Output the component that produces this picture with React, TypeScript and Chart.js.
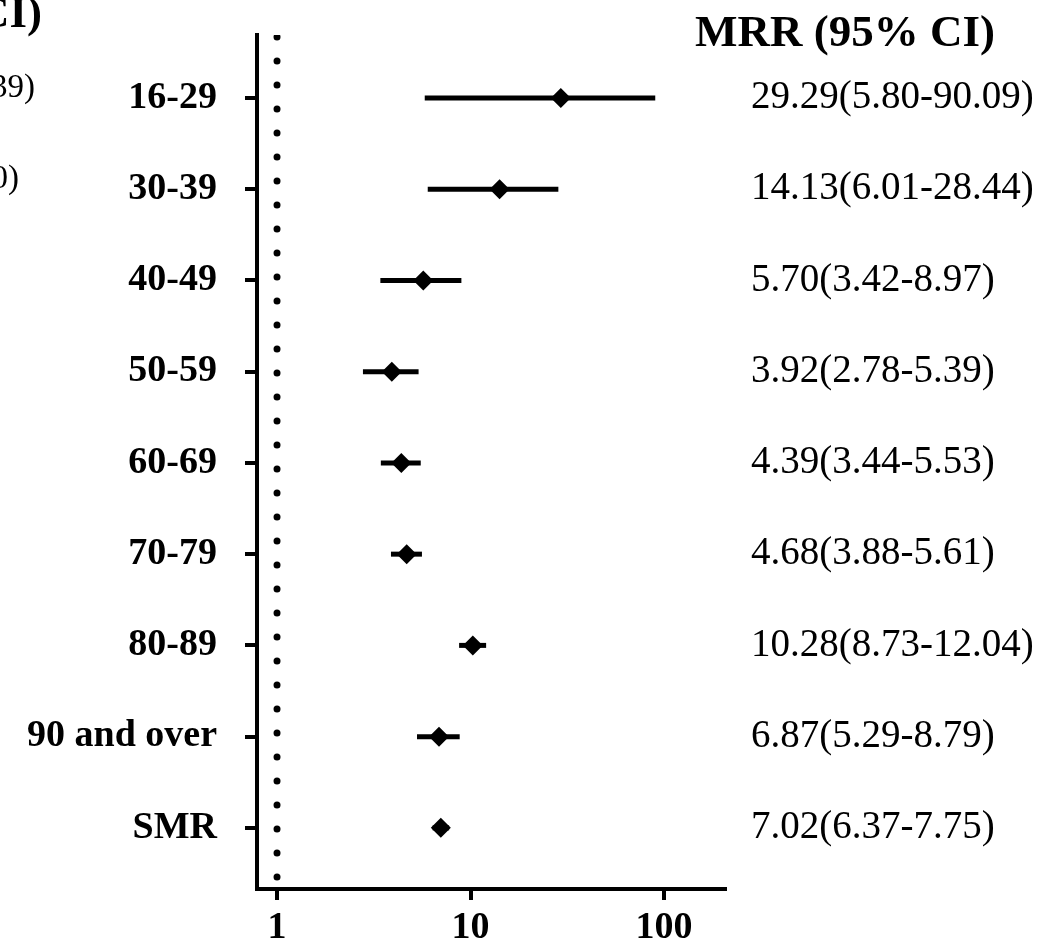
import React, { useEffect, useRef } from "react";
import { Chart, registerables } from "chart.js";

Chart.register(...registerables);

const categories = ["16-29", "30-39", "40-49", "50-59", "60-69", "70-79", "80-89", "90 and over", "SMR"];
const estimates = [29.29, 14.13, 5.7, 3.92, 4.39, 4.68, 10.28, 6.87, 7.02];
const lowers = [5.8, 6.01, 3.42, 2.78, 3.44, 3.88, 8.73, 5.29, 6.37];
const uppers = [90.09, 28.44, 8.97, 5.39, 5.53, 5.61, 12.04, 8.79, 7.75];
const valueLabels = [
  "29.29(5.80-90.09)",
  "14.13(6.01-28.44)",
  "5.70(3.42-8.97)",
  "3.92(2.78-5.39)",
  "4.39(3.44-5.53)",
  "4.68(3.88-5.61)",
  "10.28(8.73-12.04)",
  "6.87(5.29-8.79)",
  "7.02(6.37-7.75)",
];
const xTicks = [1, 10, 100];
const headerText = "MRR (95% CI)";
const refValue = 1;

const SERIF = "'Liberation Serif', 'Times New Roman', serif";

export default function App() {
  const ref = useRef<HTMLCanvasElement | null>(null);

  useEffect(() => {
    if (!ref.current) return;
    const yMin = 0.31;
    const yMax = 9.67;

    const textPlugin = {
      id: "texts",
      afterDraw(chart: any) {
        const ctx = chart.ctx;
        const yScale = chart.scales.y;
        ctx.save();
        ctx.fillStyle = "#000";
        ctx.font = `bold 45px ${SERIF}`;
        ctx.textAlign = "left";
        ctx.textBaseline = "alphabetic";
        ctx.fillText(headerText, 695, 46);
        ctx.font = `39px ${SERIF}`;
        ctx.textBaseline = "middle";
        valueLabels.forEach((t, i) => {
          ctx.fillText(t, 751, yScale.getPixelForValue(i + 1));
        });
        ctx.textAlign = "right";
        ctx.textBaseline = "alphabetic";
        ctx.font = `bold 45px ${SERIF}`;
        ctx.fillText("CI)", 42, 27);
        ctx.font = `33px ${SERIF}`;
        ctx.fillText("39)", 35, 97);
        ctx.fillText("0)", 19, 188);
        ctx.restore();
      },
    };

    const ciDatasets = categories.map((c, i) => ({
      type: "line" as const,
      label: c,
      data: [
        { x: lowers[i], y: i + 1 },
        { x: uppers[i], y: i + 1 },
      ],
      borderColor: "#000",
      borderWidth: 5,
      borderCapStyle: "butt",
      pointRadius: 0,
      fill: false,
    }));

    const chart = new Chart(ref.current, {
      type: "scatter",
      data: {
        datasets: [
          {
            type: "scatter",
            label: "MRR",
            data: estimates.map((v, i) => ({ x: v, y: i + 1 })),
            pointStyle: "rectRot",
            pointRadius: 10,
            pointBackgroundColor: "#000",
            pointBorderWidth: 0,
            backgroundColor: "#000",
          } as any,
          ...ciDatasets,
          {
            type: "line",
            label: "ref",
            data: [
              { x: refValue, y: yMin },
              { x: refValue, y: yMax },
            ],
            borderColor: "#000",
            borderWidth: 7,
            borderDash: [0, 24],
            borderDashOffset: 22,
            borderCapStyle: "round",
            pointRadius: 0,
            clip: 0,
          } as any,
        ],
      },
      options: {
        animation: false,
        responsive: false,
        maintainAspectRatio: false,
        layout: { padding: { left: 0, top: 35, right: 337, bottom: 0 } },
        plugins: { legend: { display: false }, tooltip: { enabled: false } },
        scales: {
          x: {
            type: "logarithmic",
            min: 0.788,
            max: 206.6,
            afterBuildTicks: (scale: any) => {
              scale.ticks = xTicks.map((v) => ({ value: v }));
            },
            afterFit: (scale: any) => {
              scale.height = 56;
              scale.paddingLeft = 0;
              scale.paddingRight = 0;
            },
            border: { display: true, color: "#000", width: 4 },
            grid: {
              drawOnChartArea: false,
              drawTicks: true,
              tickLength: 11,
              color: "#000",
              lineWidth: 4,
            },
            ticks: {
              color: "#000",
              padding: 5,
              autoSkip: false,
              maxRotation: 0,
              font: { family: SERIF, size: 38, weight: "bold" },
              callback: (v: any) => String(v),
            },
          },
          y: {
            type: "linear",
            reverse: true,
            min: yMin,
            max: yMax,
            afterBuildTicks: (scale: any) => {
              scale.ticks = categories.map((_, i) => ({ value: i + 1 }));
            },
            afterFit: (scale: any) => {
              scale.width = 257;
              scale.paddingTop = 0;
              scale.paddingBottom = 0;
            },
            border: { display: true, color: "#000", width: 4 },
            grid: {
              drawOnChartArea: false,
              drawTicks: true,
              tickLength: 12,
              color: "#000",
              lineWidth: 4,
            },
            ticks: {
              color: "#000",
              padding: 28,
              autoSkip: false,
              font: { family: SERIF, size: 38, weight: "bold" },
              callback: (v: any) => categories[Math.round(Number(v)) - 1] ?? "",
            },
          },
        },
      } as any,
      plugins: [textPlugin],
    });

    return () => chart.destroy();
  }, []);

  return (
    <div style={{ position: "absolute", left: 0, top: 0, width: 1062, height: 945 }}>
      <canvas ref={ref} width={1062} height={945} style={{ display: "block", width: 1062, height: 945 }} />
    </div>
  );
}
